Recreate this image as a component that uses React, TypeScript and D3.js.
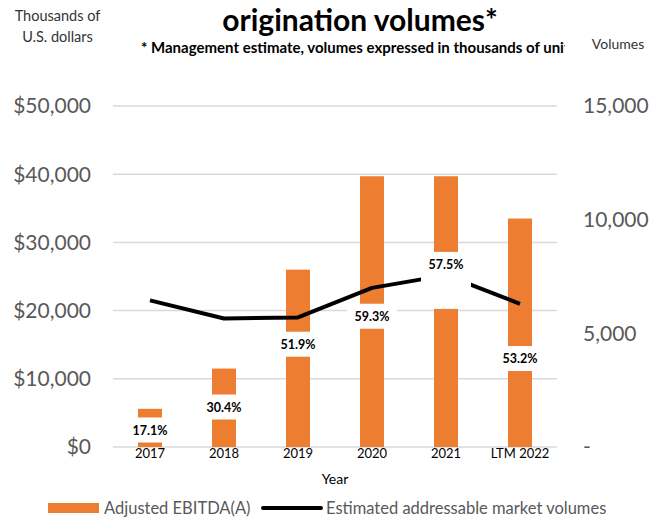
import React from "react";
import * as d3 from "d3";

const categories = ["2017", "2018", "2019", "2020", "2021", "LTM 2022"];
const ebitda = [5600, 11500, 26000, 39700, 39700, 33500];
const volumes = [6450, 5650, 5700, 7000, 7560, 6300];
const marginLabels = ["17.1%", "30.4%", "51.9%", "59.3%", "57.5%", "53.2%"];
// vertical position of each margin label, in thousands of USD
const marginLabelAt = [2420, 5790, 15000, 19100, 26700, 12900];
const leftTicks = [0, 10000, 20000, 30000, 40000, 50000];
const rightTicks = [0, 5000, 10000, 15000];

const W = 662;
const H = 519;
const plotLeft = 113;
const plotRight = 557;
const plotTop = 106;
const plotBottom = 447;
const ORANGE = "#ED7D31";
const FONT = "Lato, 'Open Sans', sans-serif";

export default function App() {
  const x = d3.scaleBand<string>().domain(categories).range([plotLeft, plotRight]).paddingInner(0).paddingOuter(0);
  const yL = d3.scaleLinear().domain([0, 50000]).range([plotBottom, plotTop]);
  const yR = d3.scaleLinear().domain([0, 15000]).range([plotBottom, plotTop]);
  const barW = 24;
  const cx = (c: string) => (x(c) as number) + x.bandwidth() / 2;

  const line = d3
    .line<number>()
    .x((_, i) => cx(categories[i]))
    .y((v) => yR(v));

  const leftFmt = (v: number) => "$" + d3.format(",")(v);
  const rightFmt = (v: number) => (v === 0 ? "-" : d3.format(",")(v));

  return (
    <svg width={W} height={H} style={{ position: "fixed", left: 0, top: 0, background: "#fff" }} fontFamily={FONT}>
      <defs>
        <clipPath id="subclip">
          <rect x={0} y={30} width={565} height={30} />
        </clipPath>
      </defs>
      <rect width={W} height={H} fill="#fff" />
      {/* header texts */}
      <text x={57.5} y={21} textAnchor="middle" fontSize={14.5} fill="#333">Thousands of</text>
      <text x={57.5} y={42} textAnchor="middle" fontSize={14.5} fill="#333">U.S. dollars</text>
      <text x={360} y={31} textAnchor="middle" fontSize={30} fontWeight="bold" fill="#000">origination volumes*</text>
      <g clipPath="url(#subclip)">
        <text x={141} y={53} fontSize={15} fontWeight="bold" fill="#000">* Management estimate, volumes expressed in thousands of units</text>
      </g>
      <text x={618} y={49} textAnchor="middle" fontSize={14} fill="#333">Volumes</text>

      {/* gridlines */}
      {leftTicks.map((t) => (
        <line key={t} x1={plotLeft} x2={plotRight} y1={yL(t)} y2={yL(t)} stroke="#d9d9d9" strokeWidth={1.5} />
      ))}
      {/* left axis labels */}
      {leftTicks.map((t) => (
        <text key={t} x={91} y={yL(t)} dy="0.35em" textAnchor="end" fontSize={21} fill="#595959">
          {leftFmt(t)}
        </text>
      ))}
      {/* right axis labels */}
      {rightTicks.map((t) => (
        <text key={t} x={583} y={yR(t)} dy="0.35em" textAnchor="start" fontSize={21} fill="#595959">
          {rightFmt(t)}
        </text>
      ))}

      {/* bars */}
      {categories.map((c, i) => (
        <rect key={c} x={cx(c) - barW / 2} y={yL(ebitda[i])} width={barW} height={plotBottom - yL(ebitda[i])} fill={ORANGE} />
      ))}

      {/* line */}
      <path d={line(volumes) || ""} fill="none" stroke="#000" strokeWidth={4} strokeLinejoin="round" />

      {/* margin labels */}
      {categories.map((c, i) => {
        const ty = yL(marginLabelAt[i]);
        const boxH = i === 4 ? 57 : 25;
        return (
          <g key={c}>
            <rect x={cx(c) - 25} y={ty - 13} width={50} height={boxH} fill="#fff" />
            <text x={cx(c)} y={ty} dy="0.35em" textAnchor="middle" fontSize={12.5} fontWeight="bold" fill="#000">
              {marginLabels[i]}
            </text>
          </g>
        );
      })}

      {/* x axis labels */}
      {categories.map((c) => (
        <text key={c} x={cx(c)} y={458} textAnchor="middle" fontSize={13} fill="#000">
          {c}
        </text>
      ))}
      <text x={335} y={484} textAnchor="middle" fontSize={14} fill="#000">Year</text>

      {/* legend */}
      <rect x={48} y={503} width={51} height={10} fill={ORANGE} />
      <text x={104} y={508} dy="0.35em" fontSize={16.5} fill="#595959">Adjusted EBITDA(A)</text>
      <line x1={263} x2={321} y1={508} y2={508} stroke="#000" strokeWidth={4} strokeLinecap="round" />
      <text x={326} y={508} dy="0.35em" fontSize={16.5} fill="#595959">Estimated addressable market volumes</text>
    </svg>
  );
}
